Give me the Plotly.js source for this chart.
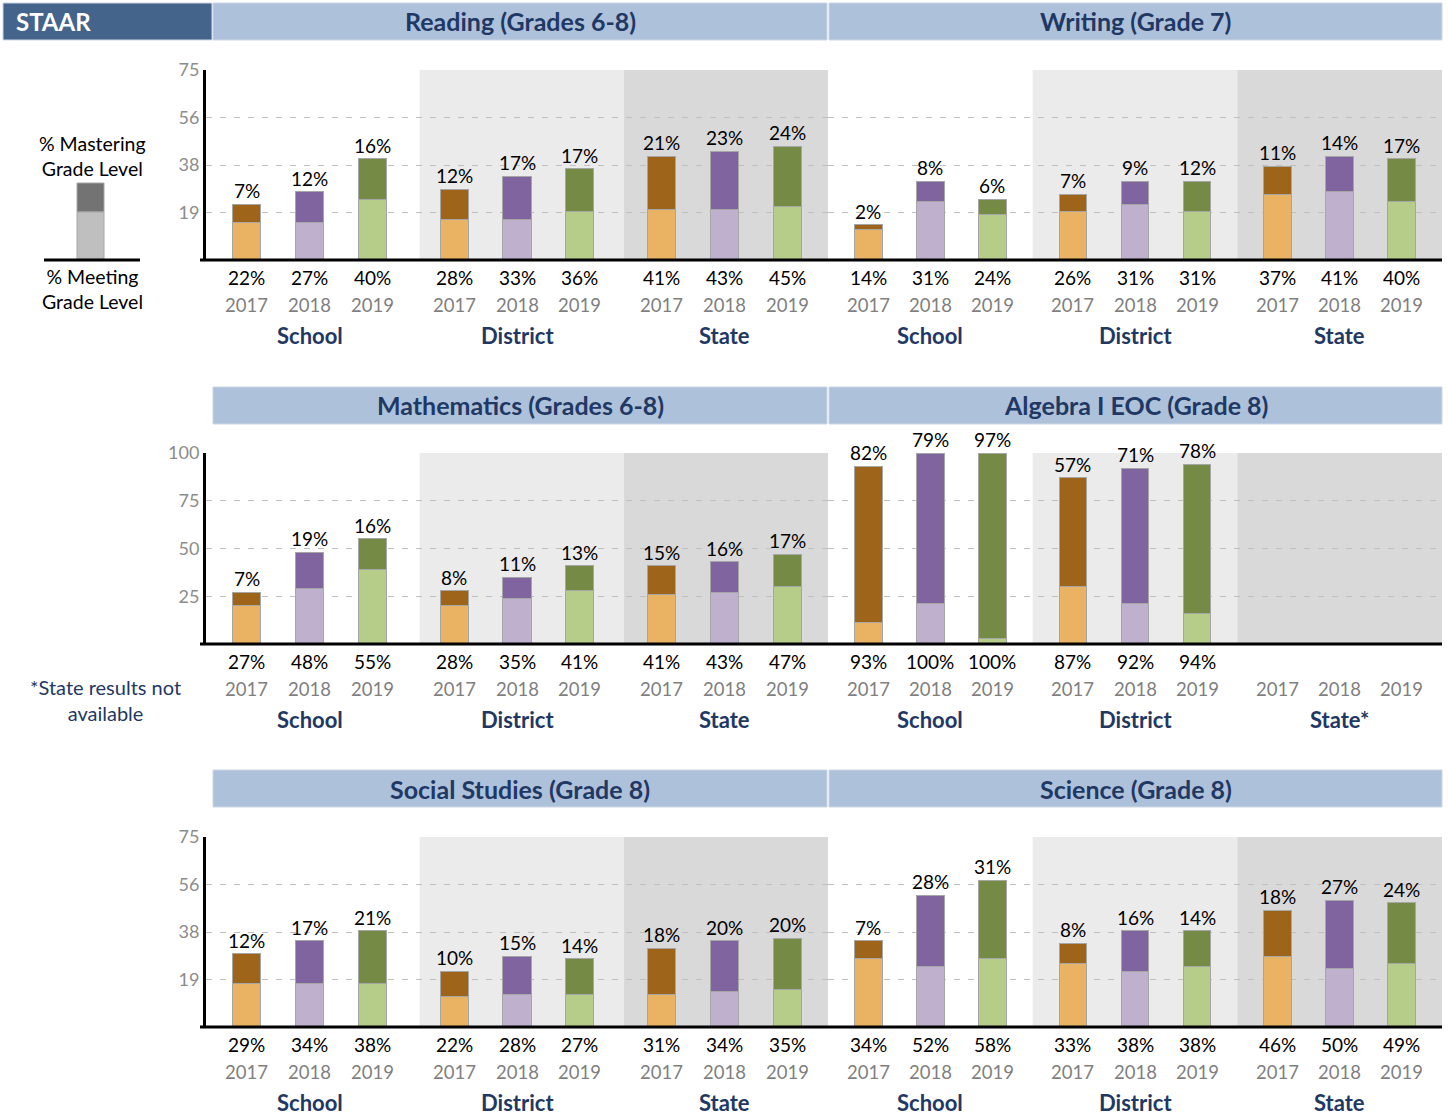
<!DOCTYPE html>
<html><head><meta charset="utf-8">
<script src="https://cdn.plot.ly/plotly-3.0.1.min.js"></script>
<style>html,body{margin:0;padding:0;background:#fff}#chart{width:1448px;height:1116px}</style>
</head><body><div id="chart"></div>
<script>
// ---- data ----
const years = ['2017', '2018', '2019'];
const groups = ['School', 'District', 'State'];
const algebraGroups = ['School', 'District', 'State*'];

const readingMeet = [22, 27, 40, 28, 33, 36, 41, 43, 45];
const readingMaster = [7, 12, 16, 12, 17, 17, 21, 23, 24];
const writingMeet = [14, 31, 24, 26, 31, 31, 37, 41, 40];
const writingMaster = [2, 8, 6, 7, 9, 12, 11, 14, 17];
const mathMeet = [27, 48, 55, 28, 35, 41, 41, 43, 47];
const mathMaster = [7, 19, 16, 8, 11, 13, 15, 16, 17];
const algebraMeet = [93, 100, 100, 87, 92, 94, null, null, null];
const algebraMaster = [82, 79, 97, 57, 71, 78, null, null, null];
const socialMeet = [29, 34, 38, 22, 28, 27, 31, 34, 35];
const socialMaster = [12, 17, 21, 10, 15, 14, 18, 20, 20];
const scienceMeet = [34, 52, 58, 33, 38, 38, 46, 50, 49];
const scienceMaster = [7, 28, 31, 8, 16, 14, 18, 27, 24];

const ticks75 = [18.75, 37.5, 56.25, 75];
const tickText75 = ['19', '38', '56', '75'];
const ticks100 = [25, 50, 75, 100];
const tickText100 = ['25', '50', '75', '100'];

// ---- styling ----
const W = 1448, H = 1116;
const FONT = 'Lato, "Noto Sans", sans-serif';
const NAVY = '#1F3864';
const lightCol = ['#EAB363', '#BFB1CE', '#B5CD88'];
const darkCol = ['#9E6419', '#8064A0', '#758B45'];
const shadeCol = [null, '#EBEBEB', '#D9D9D9'];
const px = x => x / W;
const py = y => 1 - y / H;

const cols = [[206, 828], [828, 1442]];
const shadeAdj = [[0, 0.1, 0.05], [0, 0, 0]];
const rows = [{top: 70, base: 260, head: [3, 40]}, {top: 453, base: 644, head: [387, 424]}, {top: 837, base: 1027, head: [770, 807]}];
const headX = [[213, 827], [829, 1442]];

const panels = [
  {title: 'Reading (Grades 6-8)', meet: readingMeet, master: readingMaster, ymax: 75, tv: ticks75, tt: tickText75, col: 0, row: 0, g: groups},
  {title: 'Writing (Grade 7)', meet: writingMeet, master: writingMaster, ymax: 75, tv: ticks75, tt: tickText75, col: 1, row: 0, g: groups},
  {title: 'Mathematics (Grades 6-8)', meet: mathMeet, master: mathMaster, ymax: 100, tv: ticks100, tt: tickText100, col: 0, row: 1, g: groups},
  {title: 'Algebra I EOC (Grade 8)', meet: algebraMeet, master: algebraMaster, ymax: 100, tv: ticks100, tt: tickText100, col: 1, row: 1, g: algebraGroups},
  {title: 'Social Studies (Grade 8)', meet: socialMeet, master: socialMaster, ymax: 75, tv: ticks75, tt: tickText75, col: 0, row: 2, g: groups},
  {title: 'Science (Grade 8)', meet: scienceMeet, master: scienceMaster, ymax: 75, tv: ticks75, tt: tickText75, col: 1, row: 2, g: groups}
];

const GW = 3.3; // group width in category units
const xs = [];
groups.forEach((g, gi) => years.forEach((y, yi) => xs.push(gi * GW + yi)));
const yearIdx = xs.map((_, i) => i % 3);

const data = [];
const shapes = [];
const annotations = [];
const layout = {
  width: W, height: H, margin: {l: 0, r: 0, t: 0, b: 0},
  paper_bgcolor: '#fff', plot_bgcolor: 'rgba(0,0,0,0)',
  barmode: 'stack', showlegend: false, font: {family: FONT},
  shapes: shapes, annotations: annotations
};

panels.forEach((p, i) => {
  const n = i + 1;
  const xa = 'x' + (n === 1 ? '' : n), ya = 'y' + (n === 1 ? '' : n);
  const r = rows[p.row], c = cols[p.col];
  layout['xaxis' + (n === 1 ? '' : n)] = {
    domain: [px(c[0]), px(c[1])], anchor: ya, range: [-0.65, 3 * GW - 0.65],
    showticklabels: false, showgrid: false, zeroline: false, showline: false, ticks: '', fixedrange: true
  };
  layout['yaxis' + (n === 1 ? '' : n)] = {
    domain: [py(r.base), py(r.top)], anchor: xa, range: [0, p.ymax],
    tickmode: 'array', tickvals: p.tv, ticktext: p.tt, showticklabels: p.col === 0,
    tickfont: {family: FONT, size: 18, color: '#8C8C8C'}, ticks: '',
    showgrid: false, zeroline: false,
    showline: p.col === 0, linecolor: '#000', linewidth: 3,
    minor: {tickmode: 'array', tickvals: p.tv.slice(0, 3), showgrid: true, gridcolor: '#BFBFBF', gridwidth: 1, griddash: '6px,8px', ticks: ''},
    fixedrange: true
  };
  // group shading
  [1, 2].forEach(gi => shapes.push({
    type: 'rect', xref: xa, yref: ya + ' domain',
    x0: gi * GW - 0.65 + shadeAdj[p.col][gi], x1: (gi + 1) * GW - 0.65 + (gi === 1 ? shadeAdj[p.col][2] : 0.2), y0: 0, y1: 1,
    fillcolor: shadeCol[gi], line: {width: 0}, layer: 'below'
  }));
  const light = p.meet.map((m, k) => m == null ? null : m - p.master[k]);
  data.push({
    type: 'bar', xaxis: xa, yaxis: ya, x: xs, y: light, width: 0.45,
    marker: {color: yearIdx.map(k => lightCol[k]), line: {color: '#A6A6A6', width: 1}}, hoverinfo: 'skip'
  });
  data.push({
    type: 'bar', xaxis: xa, yaxis: ya, x: xs, y: p.master, width: 0.45,
    marker: {color: yearIdx.map(k => darkCol[k]), line: {color: '#A6A6A6', width: 1}}, hoverinfo: 'skip'
  });
  xs.forEach((x, k) => {
    if (p.meet[k] != null) {
      annotations.push({xref: xa, yref: ya, x: x, y: p.meet[k], text: p.master[k] + '%', showarrow: false,
        yanchor: 'bottom', yshift: 0, font: {family: FONT, size: 19, color: '#000'}});
      annotations.push({xref: xa, yref: ya + ' domain', x: x, y: 0, text: p.meet[k] + '%', showarrow: false,
        yanchor: 'middle', yshift: -17, font: {family: FONT, size: 19, color: '#000'}});
    }
    annotations.push({xref: xa, yref: ya + ' domain', x: x, y: 0, text: years[yearIdx[k]], showarrow: false,
      yanchor: 'middle', yshift: -45, font: {family: FONT, size: 18.5, color: '#7F7F7F'}});
  });
  p.g.forEach((g, gi) => annotations.push({xref: xa, yref: ya + ' domain', x: gi * GW + 1, y: 0, text: '<b>' + g + '</b>',
    showarrow: false, yanchor: 'middle', yshift: -75, font: {family: FONT, size: 22, color: NAVY}}));
  // header bar
  const hx = headX[p.col];
  shapes.push({type: 'rect', xref: 'paper', yref: 'paper', x0: px(hx[0]), x1: px(hx[1]), y0: py(r.head[1]), y1: py(r.head[0]),
    fillcolor: '#ADC1DB', line: {color: '#CDD6E3', width: 1}, layer: 'above'});
  annotations.push({xref: 'paper', yref: 'paper', x: px((hx[0] + hx[1]) / 2), y: py((r.head[0] + r.head[1]) / 2),
    text: '<b>' + p.title + '</b>', showarrow: false, xanchor: 'center', yanchor: 'middle',
    font: {family: FONT, size: 25, color: NAVY}});
});

// baselines
rows.forEach(r => shapes.push({type: 'line', xref: 'paper', yref: 'paper', x0: px(200), x1: px(1442), y0: py(r.base), y1: py(r.base),
  line: {color: '#000', width: 3}, layer: 'above'}));

// STAAR box
shapes.push({type: 'rect', xref: 'paper', yref: 'paper', x0: px(3), x1: px(212), y0: py(40), y1: py(3),
  fillcolor: '#44648C', line: {color: '#CDD6E3', width: 1}});
annotations.push({xref: 'paper', yref: 'paper', x: px(14), y: py(21.5), text: '<b>STAAR</b>', showarrow: false,
  xanchor: 'left', yanchor: 'middle', font: {family: FONT, size: 24, color: '#fff'}});

// legend key
shapes.push({type: 'rect', xref: 'paper', yref: 'paper', x0: px(77), x1: px(104), y0: py(212), y1: py(183),
  fillcolor: '#737373', line: {color: '#A6A6A6', width: 1}});
shapes.push({type: 'rect', xref: 'paper', yref: 'paper', x0: px(77), x1: px(104), y0: py(259), y1: py(212),
  fillcolor: '#BFBFBF', line: {color: '#A6A6A6', width: 1}});
shapes.push({type: 'line', xref: 'paper', yref: 'paper', x0: px(44), x1: px(140), y0: py(260), y1: py(260),
  line: {color: '#000', width: 3}});
annotations.push({xref: 'paper', yref: 'paper', x: px(92), y: py(156), text: '% Mastering<br>Grade Level', showarrow: false,
  xanchor: 'center', yanchor: 'middle', align: 'center', font: {family: FONT, size: 19.5, color: '#000'}});
annotations.push({xref: 'paper', yref: 'paper', x: px(92), y: py(289), text: '% Meeting<br>Grade Level', showarrow: false,
  xanchor: 'center', yanchor: 'middle', align: 'center', font: {family: FONT, size: 19.5, color: '#000'}});
annotations.push({xref: 'paper', yref: 'paper', x: px(106), y: py(700), text: '*State results not<br>available', showarrow: false,
  xanchor: 'center', yanchor: 'middle', align: 'center', font: {family: FONT, size: 20, color: NAVY}});

Plotly.newPlot('chart', data, layout, {displayModeBar: false, staticPlot: true});
</script>
</body></html>
